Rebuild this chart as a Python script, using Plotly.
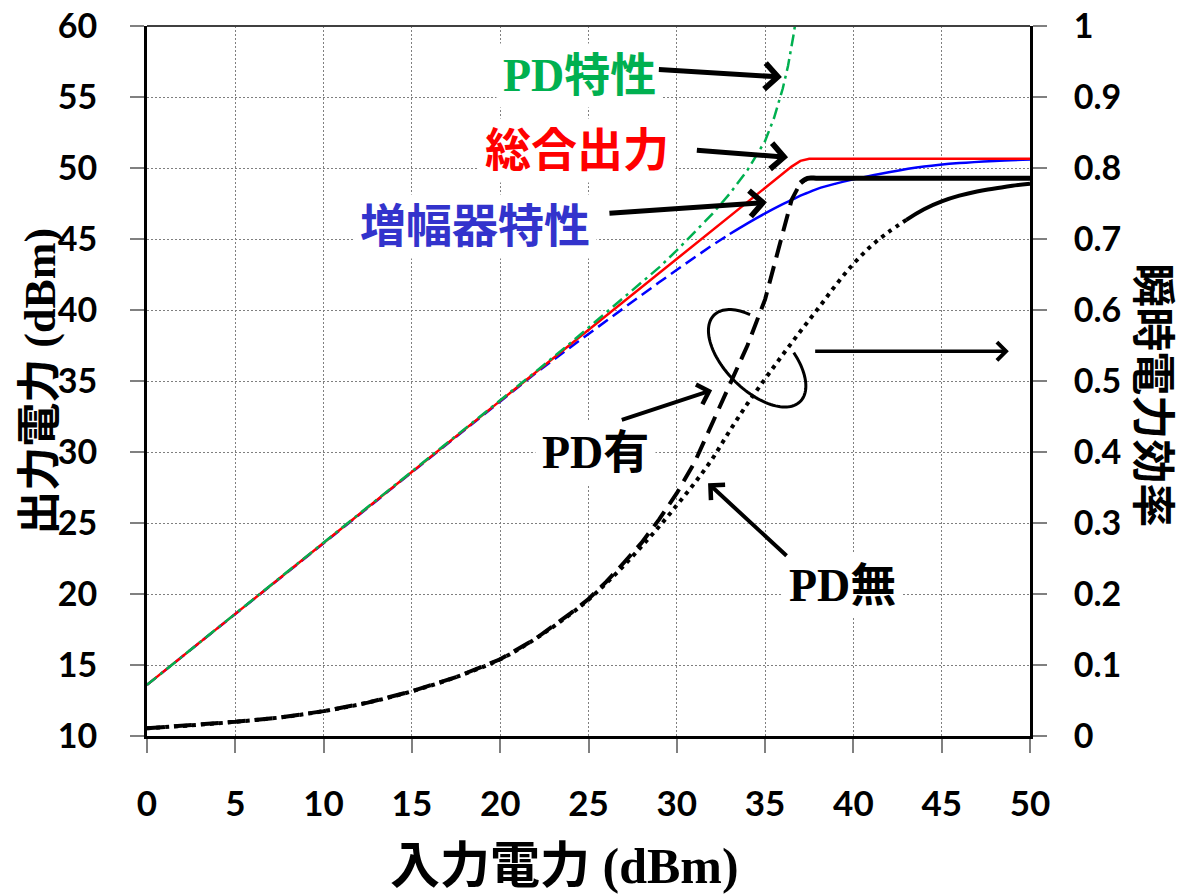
import math
import plotly.graph_objects as go

# ---------------- data ----------------
pin = [0, 5, 10, 15, 20, 22, 24, 26, 28, 29, 30, 31, 32, 33, 34, 35, 36, 36.5,
       37, 37.5, 38, 39, 40, 42, 44, 46, 48, 50]
total_out = [13.6, 18.6, 23.6, 28.6, 33.6, 35.6, 37.6, 39.6, 41.6, 42.6, 43.6,
             44.6, 45.6, 46.6, 47.6, 48.6, 49.6, 50.1, 50.5, 50.65, 50.65, 50.65,
             50.65, 50.65, 50.65, 50.65, 50.65, 50.65]
amp_out = [13.6, 18.6, 23.6, 28.6, 33.6, 35.55, 37.4, 39.25, 41.05, 41.95, 42.85,
           43.7, 44.55, 45.35, 46.1, 46.8, 47.45, 47.75, 48.05, 48.3, 48.55, 48.9,
           49.2, 49.7, 50.1, 50.35, 50.5, 50.6]

pd_in = [0, 5, 10, 15, 20, 22, 24, 26, 28, 29, 30, 31, 32, 33, 34, 35, 35.5, 36,
         36.3, 36.6, 36.75]
pd_out = [13.6, 18.6, 23.6, 28.6, 33.6, 35.65, 37.7, 39.8, 41.9, 43.0, 44.2,
          45.45, 46.75, 48.2, 49.85, 51.9, 53.5, 55.6, 57.2, 59.3, 60.5]

eff_in = [0, 2.5, 5, 7.5, 10, 12.5, 15, 17.5, 20, 22, 24, 25, 26, 27, 28, 29, 30,
          31, 32, 33, 34, 35, 36, 37, 38, 39, 40, 41, 42, 43, 44, 45, 46, 47, 48,
          49, 50]
eff_nopd = [0.011, 0.015, 0.020, 0.026, 0.035, 0.047, 0.063, 0.083, 0.108, 0.137,
            0.172, 0.192, 0.215, 0.24, 0.267, 0.295, 0.325, 0.356, 0.39, 0.43,
            0.468, 0.503, 0.537, 0.57, 0.602, 0.635, 0.665, 0.69, 0.71, 0.727,
            0.742, 0.753, 0.761, 0.767, 0.771, 0.775, 0.778]

effpd_in = [0, 2.5, 5, 7.5, 10, 12.5, 15, 17.5, 20, 22, 24, 25, 26, 27, 28, 29, 30,
            31, 32, 33, 34, 35, 35.5, 36, 36.5, 37, 37.4, 38, 40, 45, 50]
eff_pd = [0.011, 0.015, 0.020, 0.026, 0.035, 0.047, 0.063, 0.083, 0.108, 0.137,
          0.173, 0.193, 0.217, 0.244, 0.272, 0.305, 0.342, 0.385, 0.44, 0.495,
          0.55, 0.615, 0.66, 0.71, 0.755, 0.779, 0.7855, 0.7855, 0.7855, 0.7855,
          0.7855]

x_ticks = [0, 5, 10, 15, 20, 25, 30, 35, 40, 45, 50]
y_ticks = [10, 15, 20, 25, 30, 35, 40, 45, 50, 55, 60]
y2_ticks = [0, 0.1, 0.2, 0.3, 0.4, 0.5, 0.6, 0.7, 0.8, 0.9, 1]
y2_labels = ["0", "0.1", "0.2", "0.3", "0.4", "0.5", "0.6", "0.7", "0.8", "0.9", "1"]

# --------------- figure ---------------
W, H = 1177, 894
ML, MR, MT, MB = 147, 147, 26, 158
XR = [0, 50]
YR = [10, 60]
pxx = (W - ML - MR) / (XR[1] - XR[0])
pxy = (H - MT - MB) / (YR[1] - YR[0])

BLUE = "#0000FF"
RED = "#FF0000"
GREEN = "#00B050"

def split(xs, ys, lo=None, hi=None):
    ox, oy = [], []
    for a, b in zip(xs, ys):
        if (lo is None or a >= lo) and (hi is None or a <= hi):
            ox.append(a)
            oy.append(b)
    return ox, oy

fig = go.Figure()

# efficiency traces (right axis)
xa, ya = split(eff_in, eff_nopd, hi=43)
fig.add_trace(go.Scatter(x=xa, y=ya, yaxis="y2", mode="lines",
                         line=dict(color="black", width=4, dash="4px,5px", shape="spline")))
xa, ya = split(eff_in, eff_nopd, lo=43)
fig.add_trace(go.Scatter(x=xa, y=ya, yaxis="y2", mode="lines",
                         line=dict(color="black", width=4, shape="spline", smoothing=1.3)))
xa, ya = split(effpd_in, eff_pd, hi=37.4)
fig.add_trace(go.Scatter(x=xa, y=ya, yaxis="y2", mode="lines",
                         line=dict(color="black", width=4, dash="18px,9px")))
xa, ya = split(effpd_in, eff_pd, lo=37)
fig.add_trace(go.Scatter(x=xa, y=ya, yaxis="y2", mode="lines",
                         line=dict(color="black", width=5, shape="spline")))

# amplifier characteristic
xa, ya = split(pin, amp_out, hi=33)
fig.add_trace(go.Scatter(x=xa, y=ya, mode="lines",
                         line=dict(color=BLUE, width=2.5, dash="12px,6px")))
xa, ya = split(pin, amp_out, lo=33)
fig.add_trace(go.Scatter(x=xa, y=ya, mode="lines",
                         line=dict(color=BLUE, width=2.5, shape="spline")))
# total output
fig.add_trace(go.Scatter(x=pin, y=total_out, mode="lines",
                         line=dict(color=RED, width=2.5)))
# PD characteristic
fig.add_trace(go.Scatter(x=pd_in, y=pd_out, mode="lines",
                         line=dict(color=GREEN, width=2.5, dash="12px,5px,3px,5px")))

TXT_FONT = "Liberation Serif, Noto Sans CJK JP"
TICK_FONT = "Lato, Open Sans, sans-serif"

axis_common = dict(
    showline=True, linecolor="black", linewidth=3,
    ticks="outside", ticklen=14, tickwidth=1.5, tickcolor="#808080",
    zeroline=False, automargin=False,
)

fig.update_layout(
    width=W, height=H,
    margin=dict(l=ML, r=MR, t=MT, b=MB, pad=0, autoexpand=False),
    paper_bgcolor="white", plot_bgcolor="white",
    showlegend=False,
    xaxis=dict(range=XR, tickvals=x_ticks, showgrid=True, gridcolor="#7f7f7f",
               gridwidth=1, griddash="2px,2px",
               tickfont=dict(family=TICK_FONT, size=35, color="black", weight="bold"),
               ticklabelstandoff=21, **axis_common),
    yaxis=dict(range=YR, tickvals=y_ticks, showgrid=True, gridcolor="#7f7f7f",
               gridwidth=1, griddash="2px,2px",
               tickfont=dict(family=TICK_FONT, size=34, color="black", weight="bold"),
               ticklabelstandoff=26, **axis_common),
    yaxis2=dict(range=[0, 1], tickvals=y2_ticks, ticktext=y2_labels,
                overlaying="y", side="right", showgrid=False,
                tickfont=dict(family=TICK_FONT, size=34, color="black", weight="bold"),
                ticklabelstandoff=20, **axis_common),
)

# top border
fig.add_shape(type="line", xref="paper", yref="paper", x0=0, x1=1, y0=1, y1=1,
              line=dict(color="#404040", width=2))

# ellipse (open loop) around the two efficiency curves
ecx, ecy = 34.55, 36.6       # centre in data units
ea, eb, erot = 61, 32, 45    # semi-axes (px) and rotation (deg)
pts = []
for i in range(0, 101):
    t = math.radians(126 + (429 - 126) * i / 100)
    u = ea * math.cos(t)
    v = eb * math.sin(t)
    r = math.radians(erot)
    dx = (u + v) * math.cos(r)
    dy = (u - v) * math.sin(r)
    pts.append((ecx + dx / pxx, ecy - dy / pxy))
path = "M " + " L ".join(f"{a:.4f},{b:.4f}" for a, b in pts)
fig.add_shape(type="path", xref="x", yref="y", path=path,
              line=dict(color="black", width=3))

# labels
def label(text, x, y, color, size=46):
    fig.add_annotation(x=x, y=y, xref="x", yref="y", text=text, showarrow=False,
                       font=dict(family=TXT_FONT, size=size, color=color, weight="bold"),
                       bgcolor="white", borderpad=6)

label("PD特性", 24.5, 56.5, GREEN)
label("総合出力", 24.35, 51.25, RED)
label("増幅器特性", 18.6, 45.9, "#3333CC")
label("PD有", 25.4, 29.95, "black")
label("PD無", 39.4, 20.6, "black")

# arrows
def arrow(tail, tip, width=5):
    fig.add_annotation(x=tip[0], y=tip[1], ax=tail[0], ay=tail[1],
                       xref="x", yref="y", axref="x", ayref="y",
                       text="", showarrow=True, arrowhead=4, arrowsize=1,
                       arrowwidth=width, arrowcolor="black", standoff=0)

arrow((28.9, 56.95), (35.95, 56.4))
arrow((31.05, 51.25), (36.3, 50.75))
arrow((26.1, 46.8), (35.1, 47.58))
arrow((26.8, 32.23), (32.0, 34.35), 4)
arrow((36.3, 22.6), (31.77, 27.8), 4)
arrow((37.75, 37.1), (48.8, 37.1), 3.5)

# axis titles
fig.add_annotation(x=0, y=0.499, xref="paper", yref="paper", xshift=-106,
                   xanchor="center", yanchor="middle",
                   text="出力電力 (dBm)", textangle=-90, showarrow=False,
                   font=dict(family=TXT_FONT, size=44, color="black", weight="bold"))
fig.add_annotation(x=0.473, y=0, xref="paper", yref="paper", yshift=-130,
                   xanchor="center", yanchor="middle",
                   text="入力電力 (dBm)", showarrow=False,
                   font=dict(family=TXT_FONT, size=50, color="black", weight="bold"))
fig.add_annotation(x=1, y=0.48, xref="paper", yref="paper", xshift=122,
                   xanchor="center", yanchor="middle",
                   text="瞬時電力効率", textangle=90, showarrow=False,
                   font=dict(family=TXT_FONT, size=44, color="black", weight="bold"))

fig.write_html("out.html")
